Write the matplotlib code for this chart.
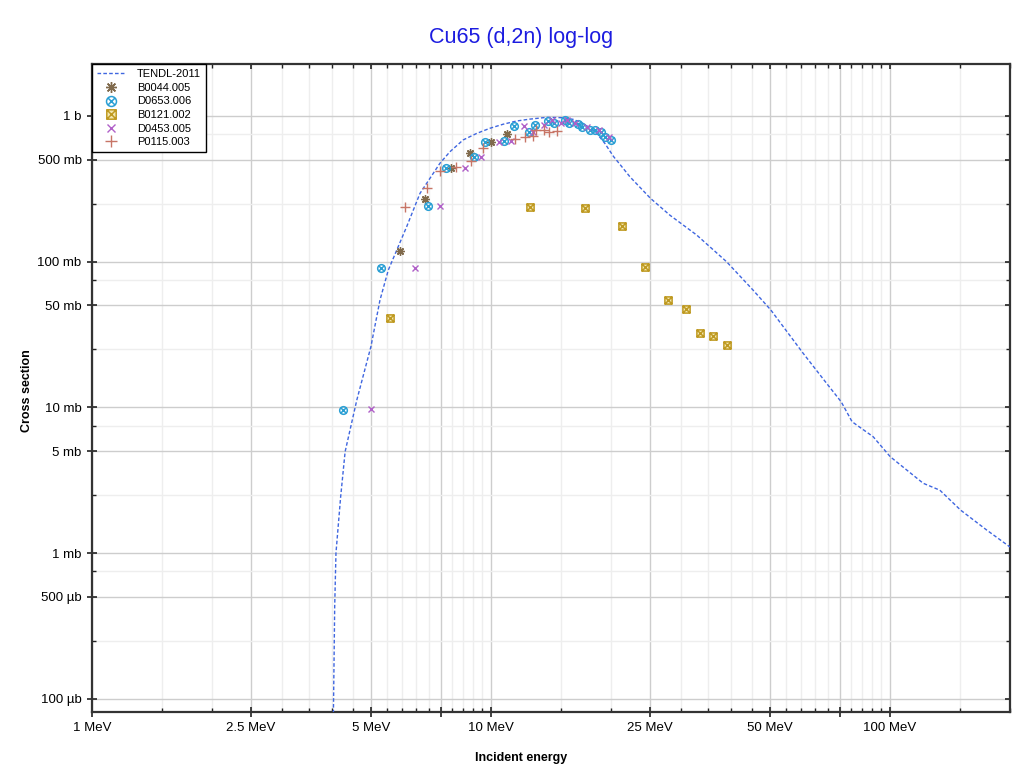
import numpy as np
import matplotlib
matplotlib.use("Agg")
import matplotlib.pyplot as plt
import matplotlib.lines as mlines
from matplotlib.path import Path
from matplotlib.ticker import FixedLocator, FixedFormatter

plt.rcParams['font.family'] = ['Liberation Sans', 'DejaVu Sans']

# ---------------- data (energy in MeV, cross section in mb) ----------------
tendl_E = [4.02, 4.058, 4.088, 4.20, 4.31, 4.61, 5.0, 5.27, 5.53, 6.15, 6.64, 7.45, 7.89, 8.52,
           9.21, 9.94, 10.74, 11.6, 12.52, 13.8, 15.2, 16.08, 17.0, 17.7, 18.4, 19.3, 20.3,
           21.05, 22.3, 25.1, 28.1, 32.8, 38.97,
           45.4, 50.3, 60.6, 69.4, 75.5, 80.4, 90.8, 100.2, 121.2, 133.4, 150.4, 174.7, 200.0]
tendl_S = [0.05, 0.428, 1.0, 2.43, 4.96, 11.2, 26.0, 54.4, 87.5, 174, 294, 473, 567, 684,
           758, 822, 877, 922, 950, 977, 971, 946, 889, 828, 760, 647, 525,
           465, 382, 272, 208, 152, 99.7,
           63.7, 46.5, 23.5, 14.6, 10.9, 7.96, 6.28, 4.58, 3.01, 2.70, 1.97, 1.44, 1.10]

b0044_E = [5.92, 6.82, 7.93, 8.84, 9.98, 10.95]
b0044_S = [119, 267, 436, 552, 664, 746]

d0653_E = [4.26, 5.30, 6.94, 7.70, 9.05, 9.67, 10.8, 11.4, 12.45, 12.9, 13.9, 14.4, 15.3,
           15.7, 16.5, 16.9, 17.7, 18.2, 18.9, 19.3, 20.0]
d0653_S = [9.58, 90.7, 240, 438, 524, 664, 674, 850, 778, 868, 925, 896, 939,
           896, 881, 837, 802, 802, 770, 718, 685]

b0121_E = [5.58, 12.5, 17.2, 21.3, 24.3, 27.8, 30.9, 33.4, 36.1, 39.0]
b0121_S = [41.0, 238, 234, 176, 91.2, 54.2, 47.2, 32.5, 31.0, 26.7]

d0453_E = [5.00, 6.44, 7.44, 8.61, 9.44, 10.47, 11.2, 12.1, 12.75, 13.6, 14.2, 14.95,
           15.5, 16.2, 17.4, 18.7, 19.8]
d0453_S = [9.73, 90.7, 240, 438, 524, 664, 671, 850, 778, 868, 935, 896,
           935, 891, 841, 802, 718]

p0115_E = [6.09, 6.92, 7.45, 8.15, 8.93, 9.53, 11.5, 12.2, 12.75, 13.0, 13.55, 13.98, 14.6]
p0115_S = [236, 318, 420, 445, 487, 598, 697, 718, 726, 798, 802, 774, 786]

series_labels = ["TENDL-2011", "B0044.005", "D0653.006", "B0121.002", "D0453.005", "P0115.003"]

x_major = [1, 2.5, 5, 7.5, 10, 25, 50, 75, 100]
x_major_labels = ["1 MeV", "2.5 MeV", "5 MeV", "", "10 MeV", "25 MeV", "50 MeV", "", "100 MeV"]
x_minor = [1.5, 2, 3, 3.5, 4, 4.5, 5.5, 6, 6.5, 7, 8, 8.5, 9, 9.5,
           15, 20, 30, 35, 40, 45, 55, 60, 65, 70, 80, 85, 90, 95, 150, 200]
y_major = [0.1, 0.5, 1, 5, 10, 50, 100, 500, 1000]
y_major_labels = ["100 µb", "500 µb", "1 mb", "5 mb", "10 mb", "50 mb", "100 mb", "500 mb", "1 b"]
y_minor = [0.25, 0.75, 2.5, 7.5, 25, 75, 250, 750, 2500]

# ---------------- markers ----------------
xc = 0.7071
xcross = Path([(-xc, -xc), (xc, xc), (-xc, xc), (xc, -xc)],
              [Path.MOVETO, Path.LINETO, Path.MOVETO, Path.LINETO])
circ_x = Path.make_compound_path(Path.unit_circle(), xcross)
sq = Path([(-1, -1), (1, -1), (1, 1), (-1, 1), (-1, -1)],
          [Path.MOVETO, Path.LINETO, Path.LINETO, Path.LINETO, Path.CLOSEPOLY])
sqx = Path([(-1, -1), (1, 1), (-1, 1), (1, -1)],
           [Path.MOVETO, Path.LINETO, Path.MOVETO, Path.LINETO])
square_x = Path.make_compound_path(sq, sqx)

fig = plt.figure(figsize=(10.22, 7.74), dpi=100)
ax = fig.add_axes([92 / 1022, 1 - 712 / 774, (1010 - 92) / 1022, (712 - 64.3) / 774])
ax.set_xscale('log')
ax.set_yscale('log')

ax.plot(tendl_E, tendl_S, color='#3f66e0', lw=1.0, ls=(0, (2.6, 1.6)), label=series_labels[0], zorder=3)
ax.plot(b0044_E, b0044_S, ls='none', marker=(8, 2, 0), ms=6, mew=1.0, color='#806a4c',
        label=series_labels[1], zorder=4)
ax.plot(d0653_E, d0653_S, ls='none', marker=circ_x, ms=5.5, mew=1.1, mfc='none', color='#2a9fd4',
        label=series_labels[2], zorder=4)
ax.plot(b0121_E, b0121_S, ls='none', marker=square_x, ms=5.2, mew=1.1, mfc='#f3e7b0', color='#bf9a22',
        label=series_labels[3], zorder=4)
ax.plot(d0453_E, d0453_S, ls='none', marker='x', ms=4.2, mew=1.0, color='#b060c8',
        label=series_labels[4], zorder=4)
ax.plot(p0115_E, p0115_S, ls='none', marker='+', ms=6.5, mew=1.0, color='#c77566',
        label=series_labels[5], zorder=4)

ax.set_xlim(1, 200)
ax.set_ylim(0.0811, 2259)

ax.xaxis.set_major_locator(FixedLocator(x_major))
ax.xaxis.set_major_formatter(FixedFormatter(x_major_labels))
ax.xaxis.set_minor_locator(FixedLocator(x_minor))
ax.xaxis.set_minor_formatter(FixedFormatter([""] * len(x_minor)))
ax.yaxis.set_major_locator(FixedLocator(y_major))
ax.yaxis.set_major_formatter(FixedFormatter(y_major_labels))
ax.yaxis.set_minor_locator(FixedLocator(y_minor))
ax.yaxis.set_minor_formatter(FixedFormatter([""] * len(y_minor)))

ax.grid(which='major', color='#cdcdcd', lw=1.0, zorder=0)
ax.grid(which='minor', color='#eeeeee', lw=1.0, zorder=0)
ax.set_axisbelow(True)

ax.tick_params(which='major', direction='inout', length=7, width=1.2, color='#222222',
               labelsize=9.5, pad=4, top=True, right=True)
ax.tick_params(which='minor', direction='in', length=3, width=1.0, color='#222222',
               top=True, right=True)
for s in ax.spines.values():
    s.set_linewidth(1.6)
    s.set_color('#333333')

leg = ax.legend(loc='upper left', bbox_to_anchor=(0, 1), borderaxespad=0, fontsize=8,
                frameon=True, fancybox=False, edgecolor='black', framealpha=1,
                handlelength=2.5, handletextpad=1.1, labelspacing=0.32, borderpad=0.45,
                markerscale=1.3)
leg.get_frame().set_linewidth(1.0)
leg.set_zorder(10)

fig.text(521 / 1022, 1 - 38 / 774, "Cu65 (d,2n) log-log", ha='center', va='center',
         fontsize=15.5, color='#1c1ce0')
fig.text(521 / 1022, 1 - 758 / 774, "Incident energy", ha='center', va='center',
         fontsize=9, fontweight='bold')
fig.text(27 / 1022, 1 - 391 / 774, "Cross section", ha='center', va='center',
         fontsize=9, fontweight='bold', rotation=90)

# top / right major ticks point inward only
fig.canvas.draw()
for t in ax.xaxis.get_major_ticks():
    t.tick2line.set_marker(mlines.TICKDOWN)
    t.tick2line.set_markersize(3.5)
for t in ax.yaxis.get_major_ticks():
    t.tick2line.set_marker(mlines.TICKLEFT)
    t.tick2line.set_markersize(3.5)

fig.savefig("out.png", dpi=100)
